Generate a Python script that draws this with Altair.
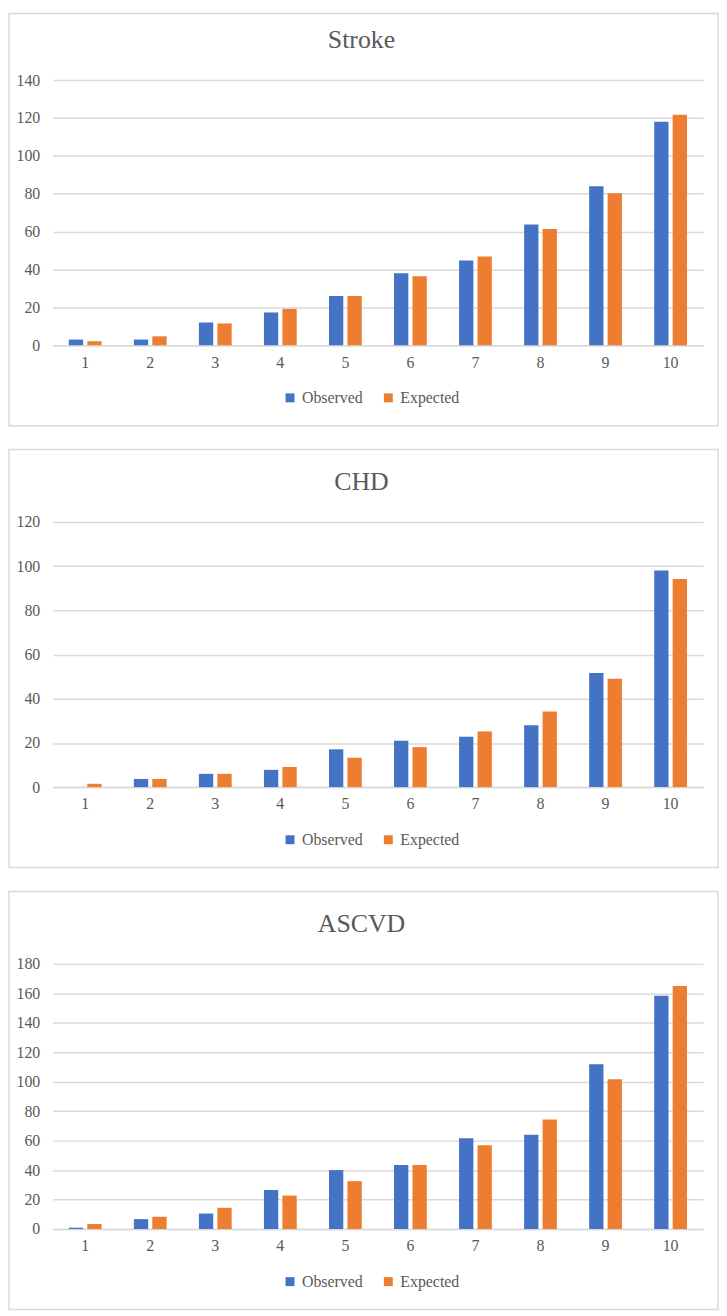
import altair as alt
import pandas as pd

FONT = "Liberation Serif"
TXT = "#595959"
GRID = "#D9D9D9"

deciles = [str(i) for i in range(1, 11)]
series = ["Observed", "Expected"]
colors = ["#4472C4", "#ED7D31"]

stroke_obs = [3, 3, 12, 17.3, 26, 38, 44.8, 63.8, 84, 118]
stroke_exp = [2.1, 4.7, 11.5, 19.2, 26, 36.4, 46.9, 61.4, 80.2, 121.7]
chd_obs = [0, 3.7, 6, 7.8, 17.1, 21, 22.8, 28, 51.7, 98]
chd_exp = [1.5, 3.7, 6, 9.1, 13.3, 18.1, 25.2, 34.2, 49.1, 94.2]
ascvd_obs = [0.9, 6.7, 10.5, 26.5, 40, 43.5, 61.7, 64, 111.8, 158.4]
ascvd_exp = [3.4, 8.3, 14.4, 22.7, 32.5, 43.5, 56.8, 74.3, 101.7, 165]

W = 655
H = 267


def panel(name, obs, exp, ymax, top):
    df = pd.DataFrame({
        "decile": deciles * 2,
        "series": [series[0]] * 10 + [series[1]] * 10,
        "value": obs + exp,
    })
    one = pd.DataFrame({"k": [0]})
    bars = alt.Chart(df).mark_bar().encode(
        x=alt.X("decile:N", sort=deciles,
                scale=alt.Scale(paddingInner=0.496, paddingOuter=0.248),
                axis=alt.Axis(title=None, labelAngle=0, ticks=False,
                              domainColor=GRID, domainWidth=1.5,
                              labelPadding=9, grid=False,
                              labelFont=FONT, labelFontSize=16, labelColor=TXT)),
        xOffset=alt.XOffset("series:N", sort=series,
                            scale=alt.Scale(paddingInner=0.225, paddingOuter=0)),
        y=alt.Y("value:Q", scale=alt.Scale(domain=[0, ymax], nice=False),
                axis=alt.Axis(title=None, values=list(range(0, ymax + 1, 20)),
                              ticks=False, domain=False, gridColor=GRID,
                              gridWidth=1.5, labelPadding=13,
                              labelFont=FONT, labelFontSize=16, labelColor=TXT)),
        color=alt.Color("series:N", sort=series,
                        scale=alt.Scale(domain=series, range=colors),
                        legend=alt.Legend(title=None, orient="none",
                                          legendX=231, legendY=H + 45,
                                          direction="horizontal",
                                          symbolType="square", symbolSize=81,
                                          symbolStrokeWidth=0,
                                          labelOffset=4, columnPadding=17,
                                          padding=0, labelFont=FONT,
                                          labelFontSize=16, labelColor=TXT)),
    )
    box = alt.Chart(one).mark_rect(fillOpacity=0, stroke=GRID, strokeWidth=1.5).encode(
        x=alt.value(-44), x2=alt.value(W + 15),
        y=alt.value(-top), y2=alt.value(H + 81),
    )
    title = alt.Chart(one).mark_text(
        text=name, font=FONT, fontSize=26, color=TXT,
        align="center", baseline="alphabetic",
    ).encode(x=alt.value(311), y=alt.value(-32))
    return alt.layer(box, bars, title).properties(width=W, height=H)


chart = alt.vconcat(
    panel("Stroke", stroke_obs, stroke_exp, 140, 67),
    panel("CHD", chd_obs, chd_exp, 120, 73),
    panel("ASCVD", ascvd_obs, ascvd_exp, 180, 73),
    spacing=22,
).resolve_scale(
    x="independent", y="independent", color="independent", xOffset="independent"
).resolve_legend(color="independent").properties(
    padding=0
).configure(font=FONT).configure_view(stroke=None).configure_axis(
    labelFont=FONT, labelFontSize=16, labelColor=TXT
).configure_legend(
    labelFont=FONT, labelFontSize=16, labelColor=TXT
)

chart.save("out.html", embed_options={"renderer": "svg", "actions": False})
